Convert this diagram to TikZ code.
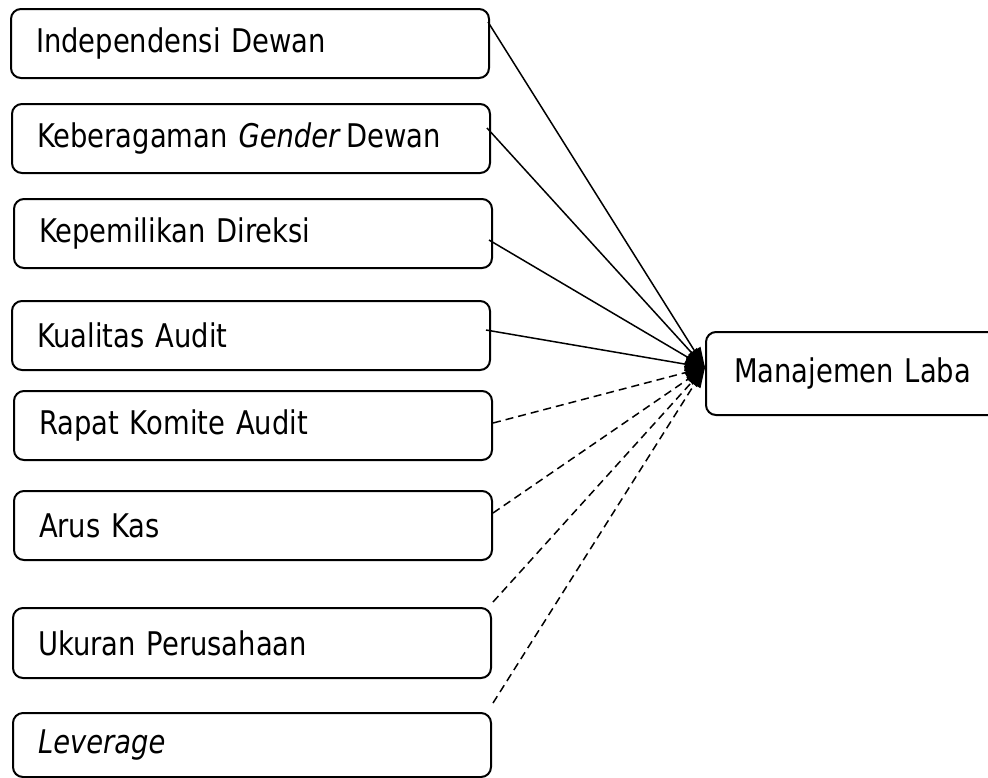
\documentclass[tikz,border=0pt]{standalone}
\usepackage{fontspec}
\setmainfont{DejaVu Sans}[FakeStretch=0.84]
\usetikzlibrary{arrows.meta}
\begin{document}
\begin{tikzpicture}[x=0.5pt,y=-0.5pt,
  varbox/.style={draw, line width=1pt, rounded corners=5pt, anchor=north west,
    minimum width=239pt, text width=214pt, inner xsep=12.5pt, inner ysep=0pt,
    minimum height=34.5pt, align=left, font=\fontsize{16.3}{19}\selectfont},
  depbox/.style={draw, line width=1pt, rounded corners=5pt, anchor=north west,
    minimum width=150pt, text width=122pt, inner xsep=14pt, inner ysep=0pt,
    minimum height=41.5pt, align=left, font=\fontsize{16.3}{19}\selectfont},
  solidarr/.style={line width=0.75pt, -{Triangle[length=10pt,width=7pt]}},
  dasharr/.style={line width=0.75pt, dash pattern=on 4pt off 2.5pt, -{Triangle[length=10pt,width=7pt]}}
]
\useasboundingbox (0,0) rectangle (988,777);
\clip (0,0) rectangle (988,777);
\node[varbox] (b1) at (10,8) {Independensi Dewan};
\node[varbox] (b2) at (11,103) {Keberagaman \textit{Gender}\,Dewan};
\node[varbox] (b3) at (13,198) {Kepemilikan Direksi};
\node[varbox] (b4) at (11,300) {Kualitas Audit};
\node[varbox] (b5) at (13,390) {Rapat Komite Audit};
\node[varbox] (b6) at (13,490) {Arus Kas};
\node[varbox, minimum height=35pt] (b7) at (12,607) {Ukuran Perusahaan};
\node[varbox, minimum height=32pt] (b8) at (12,712) {\textit{Leverage}};
\node[depbox] (ml) at (705,331) {Manajemen Laba};
\coordinate (c1) at (488,22);
\coordinate (c2) at (487,128);
\coordinate (c3) at (489,240);
\coordinate (c4) at (486,330);
\coordinate (c5) at (493,423);
\coordinate (c6) at (493,513);
\coordinate (c7) at (493,602);
\coordinate (c8) at (493,703);
\coordinate (tgt) at ([yshift=3pt]ml.west);
\draw[solidarr] (c1) -- (tgt);
\draw[solidarr] (c2) -- (tgt);
\draw[solidarr] (c3) -- (tgt);
\draw[solidarr] (c4) -- (tgt);
\draw[dasharr] (c5) -- (tgt);
\draw[dasharr] (c6) -- (tgt);
\draw[dasharr] (c7) -- (tgt);
\draw[dasharr] (c8) -- (tgt);
\end{tikzpicture}
\end{document}
